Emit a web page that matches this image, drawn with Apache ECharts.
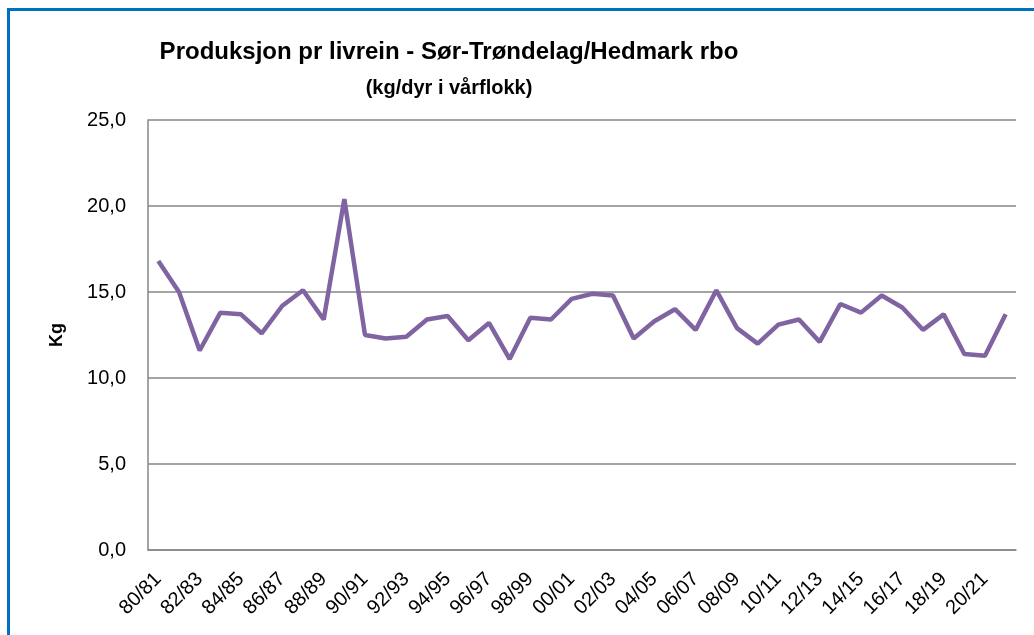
<!DOCTYPE html>
<html>
<head>
<meta charset="utf-8">
<script src="https://cdn.jsdelivr.net/npm/echarts@6/dist/echarts.min.js"></script>
<style>
  html, body { margin: 0; padding: 0; background: #fff; }
  #frame {
    position: absolute; left: 7px; top: 8px; width: 1040px; height: 640px;
    border-top: 3px solid #0070C0; border-left: 3px solid #0070C0;
  }
  #main { position: absolute; left: 0; top: 0; width: 1034px; height: 635px; }
</style>
</head>
<body>
<div id="frame"></div>
<div id="main"></div>
<script>
var seasons = [];
for (var y = 80; y < 122; y++) {
  var a = y % 100, b = (y + 1) % 100;
  seasons.push((a < 10 ? '0' : '') + a + '/' + (b < 10 ? '0' : '') + b);
}
var kgPerDyr = [
  16.8, 15.0, 11.6, 13.8, 13.7, 12.6, 14.2, 15.1, 13.4, 20.4,
  12.5, 12.3, 12.4, 13.4, 13.6, 12.2, 13.2, 11.1, 13.5, 13.4,
  14.6, 14.9, 14.8, 12.3, 13.3, 14.0, 12.8, 15.1, 12.9, 12.0,
  13.1, 13.4, 12.1, 14.3, 13.8, 14.8, 14.1, 12.8, 13.7, 11.4,
  11.3, 13.7
];
var yTicks = [0, 5, 10, 15, 20, 25];

var chart = echarts.init(document.getElementById('main'));
var option = {
  backgroundColor: 'transparent',
  title: [{
    text: 'Produksjon pr livrein - Sør-Trøndelag/Hedmark rbo',
    left: 444, top: 35, textAlign: 'center',
    textStyle: { fontFamily: 'Liberation Sans', fontWeight: 'bold', fontSize: 24, color: '#000' }
  }, {
    text: '(kg/dyr i vårflokk)',
    left: 444, top: 73, textAlign: 'center',
    textStyle: { fontFamily: 'Liberation Sans', fontWeight: 'bold', fontSize: 20, color: '#000' }
  }],
  grid: { left: 148, right: 18, top: 120, bottom: 85, containLabel: false },
  xAxis: {
    type: 'category',
    data: seasons,
    boundaryGap: true,
    axisLine: { lineStyle: { color: '#868686', width: 1.5 } },
    axisTick: { show: false },
    axisLabel: {
      interval: 1, rotate: 45, color: '#000', fontSize: 20,
      fontFamily: 'Liberation Sans', margin: 26
    }
  },
  yAxis: {
    type: 'value',
    min: yTicks[0], max: yTicks[yTicks.length - 1], interval: 5,
    name: 'Kg', nameLocation: 'middle', nameGap: 82, nameRotate: 90,
    nameTextStyle: { fontFamily: 'Liberation Sans', fontWeight: 'bold', fontSize: 18, color: '#000' },
    axisLine: { show: true, lineStyle: { color: '#868686', width: 1.5 } },
    axisTick: { show: false },
    splitLine: { lineStyle: { color: '#868686', width: 1.5 } },
    axisLabel: {
      color: '#000', fontSize: 20, fontFamily: 'Liberation Sans', margin: 22,
      formatter: function (v) { return v.toFixed(1).replace('.', ','); }
    }
  },
  series: [{
    type: 'line',
    data: kgPerDyr,
    symbol: 'none',
    lineStyle: { color: '#8064A2', width: 4.5 },
    itemStyle: { color: '#8064A2' }
  }]
};
chart.setOption(option);
window.onresize = function () { chart.resize(); };
</script>
</body>
</html>
